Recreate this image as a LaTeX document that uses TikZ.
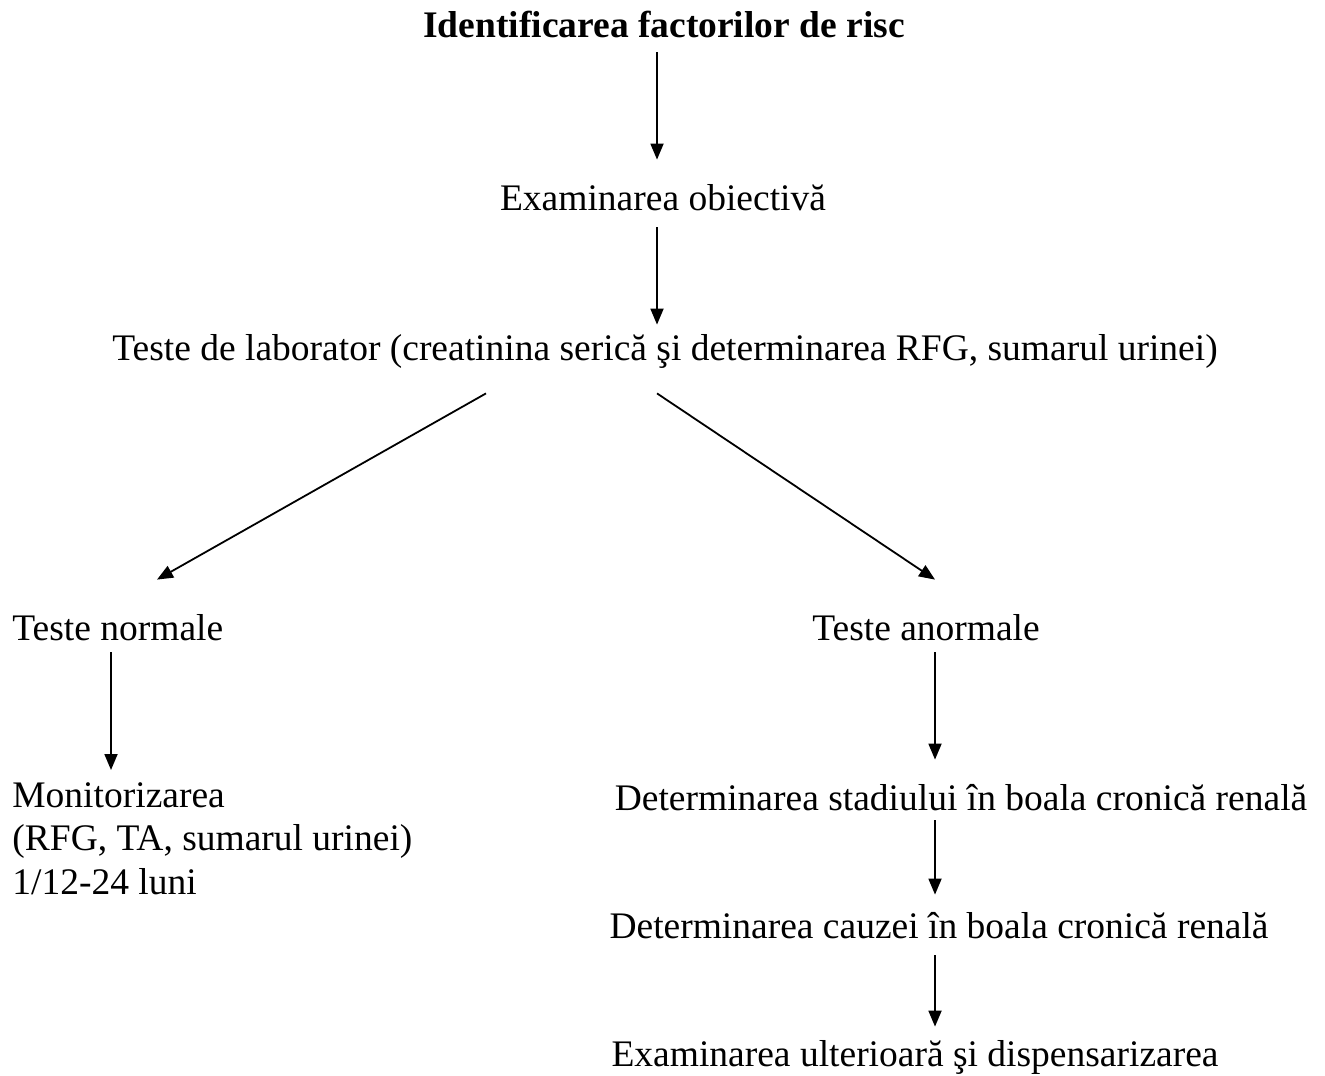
\documentclass[tikz,border=0pt]{standalone}
\usepackage{fontspec}
\setmainfont{Liberation Serif}
\usetikzlibrary{arrows.meta,positioning,calc}
\newcommand{\flowfont}{\fontsize{18.75}{21.7}\selectfont}
\tikzset{
  arr/.style={-{Triangle[length=8pt,width=6.5pt]},line width=0.9pt},
  txt/.style={inner sep=0pt,anchor=base,text height=13pt,text depth=4pt,font=\flowfont},
  multitxt/.style={inner sep=0pt,align=left,font=\flowfont}
}

\begin{document}
\begin{tikzpicture}[x=0.5pt,y=-0.5pt]
  \useasboundingbox (0,0) rectangle (1325,1075);
  % axes of the arrows
  \coordinate (lax) at (111,0);
  \coordinate (cax) at (657,0);
  \coordinate (rax) at (935,0);

  \node[txt,font=\flowfont\bfseries] (title) at (664,38) {Identificarea factorilor de risc};
  \node[txt] (exam) at (663,210) {Examinarea obiectivă};
  \node[txt] (lab) at (665,360) {Teste de laborator (creatinina serică şi determinarea RFG, sumarul urinei)};
  \node[txt,anchor=base west] (norm) at (12,640) {Teste normale};
  \node[txt] (anorm) at (926,640) {Teste anormale};
  \node[multitxt,anchor=north west] (monit) at (12,782) {Monitorizarea\\(RFG, TA, sumarul urinei)\\1/12-24 luni};
  \node[txt] (stad) at (961,810) {Determinarea stadiului în boala cronică renală};
  \node[txt] (cauza) at (939,938) {Determinarea cauzei în boala cronică renală};
  \node[txt] (disp) at (915,1066) {Examinarea ulterioară şi dispensarizarea};

  \draw[arr,shorten <=3pt,shorten >=12pt] (title.south -| cax) -- (exam.north -| cax);
  \draw[arr,shorten <=4.5pt,shorten >=4.5pt] (exam.south -| cax) -- (lab.north -| cax);
  \draw[arr] ($(lab.south)+(-179,25)$) -- ($(norm.north west)+(145,-34)$);
  \draw[arr] ($(lab.south -| cax)+(0,25)$) -- ($(anorm.north -| rax)+(0,-34)$);
  \draw[arr,shorten <=2pt,shorten >=6pt] (norm.south -| lax) -- (monit.north -| lax);
  \draw[arr,shorten <=2pt,shorten >=12pt] (anorm.south -| rax) -- (stad.north -| rax);
  \draw[arr,shorten <=1pt,shorten >=8.5pt] (stad.south -| rax) -- (cauza.north -| rax);
  \draw[arr,shorten <=4.5pt,shorten >=6.5pt] (cauza.south -| rax) -- (disp.north -| rax);
\end{tikzpicture}
\end{document}
